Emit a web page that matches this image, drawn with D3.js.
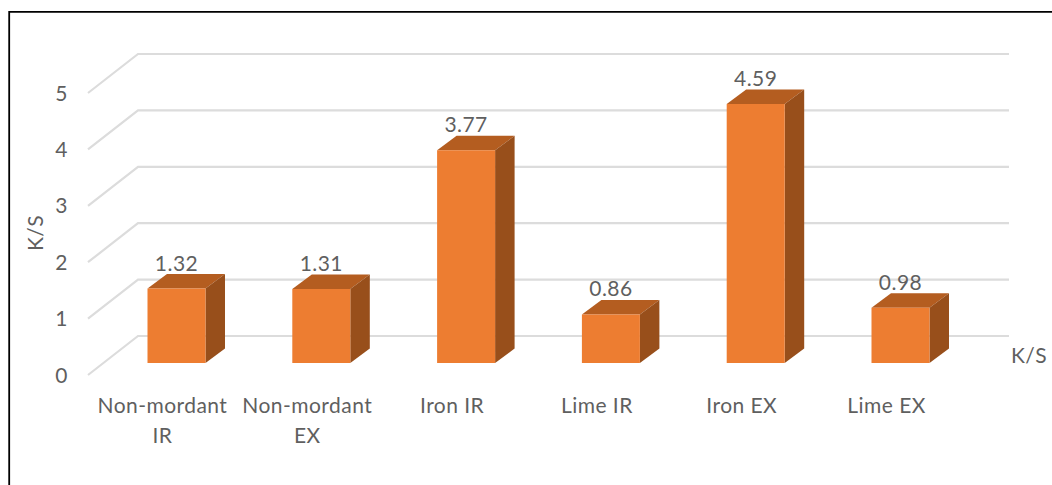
<!DOCTYPE html>
<html>
<head>
<meta charset="utf-8">
<script src="https://cdn.jsdelivr.net/npm/d3@7"></script>
<style>
  html, body { margin: 0; padding: 0; background: #fff; }
  svg { display: block; }
  text { font-family: Lato, "Open Sans", sans-serif; fill: #5f5f5f; letter-spacing: 0.45px; }
</style>
</head>
<body>
<div id="chart"></div>
<script>
// Chart values
const categories = ["Non-mordant IR", "Non-mordant EX", "Iron IR", "Lime IR", "Iron EX", "Lime EX"];
const categoryLines = [["Non-mordant", "IR"], ["Non-mordant", "EX"], ["Iron IR"], ["Lime IR"], ["Iron EX"], ["Lime EX"]];
const values = [1.32, 1.31, 3.77, 0.86, 4.59, 0.98];
const valueTicks = [0, 1, 2, 3, 4, 5];
const axisTitle = "K/S";
const seriesName = "K/S";

const width = 1052, height = 485;
const fontSize = 21;

// Floor of the 3D plot: front-left corner and how far the back wall recedes
const floorFront = { x: 88, y: 375 };
const wall = { dx: 50, dy: -39 };
const wallRight = 1009;
// Bars stand partway into the floor and have a shallower depth of their own
const barLift = -12;
const barDepth = { dx: 19.5, dy: -14.5 };
const barWidth = 58;

const y = d3.scaleLinear().domain([0, 5]).range([floorFront.y, floorFront.y - 282]);
const xBars = d3.scaleBand().domain(categories).range([104.1, 972.9]);
const xLabels = d3.scaleBand().domain(categories).range([90, 959]);

const svg = d3.select("#chart").append("svg").attr("width", width).attr("height", height);

// Frame around the chart (open at the right and bottom edges)
svg.append("path")
  .attr("d", `M9.2,${height}V11.8H${width}`)
  .attr("fill", "none").attr("stroke", "#000").attr("stroke-width", 1.8);

// Gridlines: side wall segment then back wall
svg.append("g").selectAll("path").data(valueTicks).join("path")
  .attr("d", d => {
    const p = d3.path();
    p.moveTo(floorFront.x, y(d));
    p.lineTo(floorFront.x + wall.dx, y(d) + wall.dy);
    p.lineTo(wallRight, y(d) + wall.dy);
    return p.toString();
  })
  .attr("fill", "none").attr("stroke", "#dcdcdc").attr("stroke-width", 2.2);

// Value axis labels
const yAxis = svg.append("g")
  .attr("transform", `translate(${floorFront.x - 20},0)`)
  .call(d3.axisLeft(y).tickValues(valueTicks).tickSize(0).tickPadding(0).tickFormat(d3.format("d")));
yAxis.select(".domain").remove();
yAxis.selectAll("text").attr("font-size", fontSize).attr("dy", "0.34em");
yAxis.attr("font-family", null);

// Bars: top, side and front faces
const bars = svg.append("g").selectAll("g").data(categories.map((c, i) => ({ c, v: values[i] }))).join("g");
const barBox = d => {
  const x0 = xBars(d.c) + xBars.bandwidth() / 2 - barWidth / 2;
  const y0 = y(0) + barLift;
  const y1 = y(d.v) + barLift;
  return { x0, x1: x0 + barWidth, y0, y1 };
};
const poly = pts => "M" + pts.map(p => p.join(",")).join("L") + "Z";

bars.append("path").attr("fill", "#b45d20").attr("d", d => {
  const b = barBox(d);
  return poly([[b.x0, b.y1], [b.x0 + barDepth.dx, b.y1 + barDepth.dy], [b.x1 + barDepth.dx, b.y1 + barDepth.dy], [b.x1, b.y1]]);
});
bars.append("path").attr("fill", "#984f1b").attr("d", d => {
  const b = barBox(d);
  return poly([[b.x1, b.y1], [b.x1 + barDepth.dx, b.y1 + barDepth.dy], [b.x1 + barDepth.dx, b.y0 + barDepth.dy], [b.x1, b.y0]]);
});
bars.append("path").attr("fill", "#ed7d31").attr("d", d => {
  const b = barBox(d);
  return poly([[b.x0, b.y1], [b.x1, b.y1], [b.x1, b.y0], [b.x0, b.y0]]);
});

// Value labels above each bar
bars.append("text")
  .attr("text-anchor", "middle")
  .attr("font-size", fontSize)
  .attr("x", d => xBars(d.c) + xBars.bandwidth() / 2)
  .attr("y", d => barBox(d).y1 - 18)
  .text(d => d.v.toFixed(2));

// Category labels, wrapped over up to two lines
const catLabels = svg.append("g").selectAll("text").data(categories).join("text")
  .attr("text-anchor", "middle")
  .attr("font-size", fontSize)
  .attr("y", 412.5);
catLabels.selectAll("tspan").data((d, i) => categoryLines[i].map(t => ({ t, c: d }))).join("tspan")
  .attr("x", d => xLabels(d.c) + xLabels.bandwidth() / 2)
  .attr("dy", (d, i) => i ? 30 : 0)
  .text(d => d.t);

// Axis title and series name
svg.append("text")
  .attr("transform", "translate(43,233) rotate(-90)")
  .attr("text-anchor", "middle")
  .attr("font-size", fontSize)
  .text(axisTitle);
svg.append("text")
  .attr("x", 1011).attr("y", 363)
  .attr("font-size", fontSize)
  .text(seriesName);
</script>
</body>
</html>
